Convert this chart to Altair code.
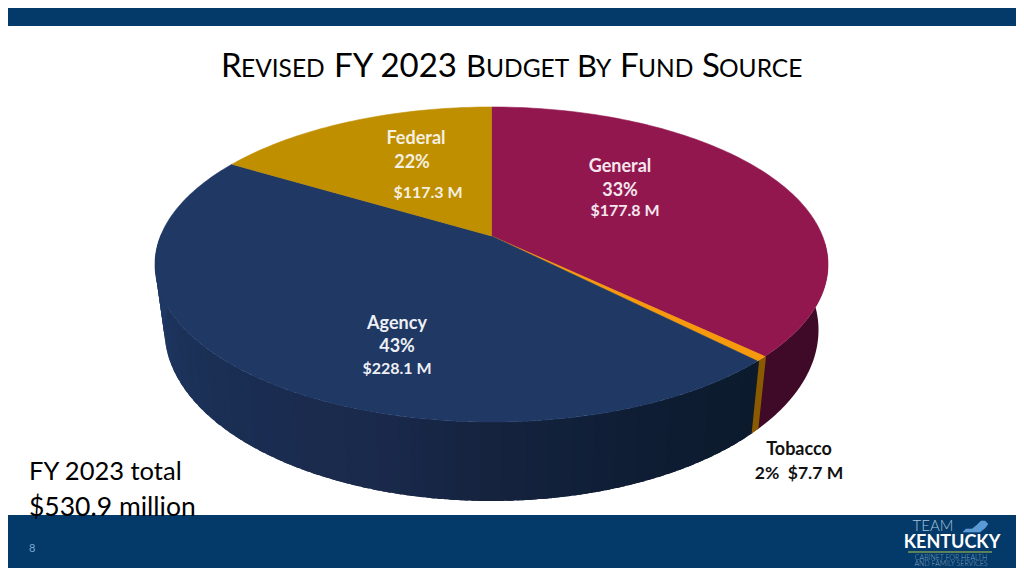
import math
import altair as alt
import pandas as pd

# ---- chart values ----
sources = ["General", "Tobacco", "Agency", "Federal"]
shares = [33, 2, 43, 22]
amounts = ["$177.8 M", "$7.7 M", "$228.1 M", "$117.3 M"]
# slice edges, as ellipse angles measured on the drawn (tilted) pie
edge_start = [270, 395.7, 397.8, 579.5]
edge_end = [395.7, 397.8, 579.5, 630]
top_colors = ["#92174f", "#f7990c", "#1f3864", "#bf8f00"]
wall_colors = ["#3f0a27", "#8a5a00", None, None]
agency_wall_angle = [37, 60, 90, 110, 130, 150, 165, 180, 190]
agency_wall_shade = ["#0c1a2c", "#0e1d33", "#15233f", "#1a2a4c", "#1a2c50", "#1b3056", "#1d345d", "#1f3864", "#1f3864"]

W, H = 1008, 560
APEX = (491.5, 236)
TOP = (491.5, 264.5, 336.5, 157.5)
BOT = (491.5, 330, 327, 171)


def ell(e, t):
    r = math.radians(t)
    return e[0] + e[2] * math.cos(r), e[1] + e[3] * math.sin(r)


def arc_list(a, b, step=1.0):
    n = max(2, int(abs(b - a) / step) + 1)
    return [a + (b - a) * i / (n - 1) for i in range(n)]


def mix(c1, c2, f):
    a = [int(c1[i:i + 2], 16) for i in (1, 3, 5)]
    b = [int(c2[i:i + 2], 16) for i in (1, 3, 5)]
    return "#" + "".join(f"{round(p + (q - p) * f):02x}" for p, q in zip(a, b))


walls, faces = [], []


def add_poly(rows, name, color, pts):
    pts = list(pts) + [pts[0]]
    for i, (x, y) in enumerate(pts):
        rows.append({"g": name, "c": color, "o": i, "x": x, "y": y})


def wall(name, color, a, b):
    ts = arc_list(a, b, 0.5)
    add_poly(walls, name, color, [ell(TOP, t) for t in ts] + [ell(BOT, t) for t in reversed(ts)])


# walls: the agency wall is painted in thin overlapping strips between the read shades
wall("w-gen", wall_colors[0], -8, 35.7)
strip = 0
for i in range(len(agency_wall_angle) - 1):
    a0, a1 = agency_wall_angle[i], agency_wall_angle[i + 1]
    steps = max(1, int((a1 - a0) / 2))
    for k in range(steps):
        wall(f"w-ag{strip:03d}", mix(agency_wall_shade[i], agency_wall_shade[i + 1], k / steps),
             a0 + (a1 - a0) * k / steps, a0 + (a1 - a0) * (k + 1) / steps + 1.5)
        strip += 1
wall("w-tob", wall_colors[1], 35.3, 37.3)
# top face
for s, a, b, c in zip(sources, edge_start, edge_end, top_colors):
    add_poly(faces, "t-" + s, c, [APEX] + [ell(TOP, t) for t in arc_list(a, b)])

# logo state shape
ky_x = [963, 966, 972, 977, 981, 985, 988, 985, 980]
ky_y = [532, 529, 529, 525, 521, 521, 524, 528, 532]
add_poly(faces, "ky", "#5b9bd5", list(zip(ky_x, ky_y)))

walls_df = pd.DataFrame(walls)
faces_df = pd.DataFrame(faces)

bands = pd.DataFrame({"x": [8, 8], "x2": [1016, 1016], "y": [8, 515], "y2": [26, 568]})
logo_rule = pd.DataFrame({"x": [908], "x2": [992], "y": [552]})

title_runs = [
    ("R", 221, 33), ("EVISED", 241, 24.5), ("FY 2023", 334, 33), ("B", 466, 31), ("UDGET", 486, 24.5),
    ("B", 577, 31), ("Y", 596, 24.5), ("F", 620, 33), ("UND", 638, 24.5), ("S", 702, 33), ("OURCE", 719, 24.5),
]
title_df = pd.DataFrame({"t": [r[0] for r in title_runs], "x": [r[1] for r in title_runs],
                         "s": [r[2] for r in title_runs], "y": [77] * len(title_runs)})

bold_labels = pd.DataFrame([
    {"t": "Federal", "x": 416, "y": 139, "s": 18, "c": "#f5f0e0"},
    {"t": f"{shares[3]}%", "x": 412, "y": 163, "s": 18, "c": "#f5f0e0"},
    {"t": amounts[3], "x": 428, "y": 193, "s": 16, "c": "#f5f0e0"},
    {"t": "General", "x": 620, "y": 167, "s": 18, "c": "#f5e6ee"},
    {"t": f"{shares[0]}%", "x": 620, "y": 191, "s": 18, "c": "#f5e6ee"},
    {"t": amounts[0], "x": 625, "y": 211, "s": 16, "c": "#f5e6ee"},
    {"t": "Agency", "x": 397, "y": 324, "s": 18, "c": "#eef0f5"},
    {"t": f"{shares[2]}%", "x": 397, "y": 347, "s": 18, "c": "#eef0f5"},
    {"t": amounts[2], "x": 397, "y": 369, "s": 16, "c": "#eef0f5"},
    {"t": "Tobacco", "x": 799, "y": 450, "s": 18, "c": "#111111"},
    {"t": f"{shares[1]}%\u00a0\u00a0{amounts[1]}", "x": 799, "y": 474, "s": 17.5, "c": "#111111"},
    {"t": "KENTUCKY", "x": 952, "y": 543, "s": 18, "c": "#ffffff"},
])
plain_left = pd.DataFrame([
    {"t": "FY 2023 total", "x": 29, "y": 480, "s": 25.5, "c": "#000000"},
    {"t": "$530.9 million", "x": 29, "y": 516, "s": 26.5, "c": "#000000"},
    {"t": "8", "x": 29, "y": 552, "s": 11, "c": "#7ea6d0"},
])
plain_logo = pd.DataFrame([
    {"t": "TEAM", "x": 933, "y": 526, "s": 15, "c": "#a9c4dc"},
    {"t": "CABINET FOR HEALTH", "x": 951, "y": 558, "s": 7, "c": "#86a3bf"},
    {"t": "AND FAMILY SERVICES", "x": 951, "y": 564, "s": 7, "c": "#86a3bf"},
])

X = alt.X("x:Q", scale=alt.Scale(domain=[8, W + 8], range=[0, W]), axis=None)
Y = alt.Y("y:Q", scale=alt.Scale(domain=[H + 8, 8], range=[H, 0]), axis=None)

band_layer = alt.Chart(bands).mark_rect(color="#033a69").encode(X, alt.X2("x2:Q"), Y, alt.Y2("y2:Q"))
wall_layer = alt.Chart(walls_df).mark_line(filled=True, interpolate="linear", strokeWidth=0).encode(
    X, Y, order="o:Q", detail="g:N", fill=alt.Fill("c:N", scale=None),
)
face_layer = alt.Chart(faces_df).mark_line(filled=True, interpolate="linear", strokeWidth=0.6).encode(
    X, Y, order="o:Q", detail="g:N",
    fill=alt.Fill("c:N", scale=None), stroke=alt.Stroke("c:N", scale=None),
)
rule_layer = alt.Chart(logo_rule).mark_rule(color="#b8c94a", strokeWidth=1.2).encode(X, alt.X2("x2:Q"), Y)


def text_layer(df, **kw):
    return alt.Chart(df).mark_text(font="Lato", **kw).encode(
        X, Y, text="t:N", size=alt.Size("s:Q", scale=None),
        color=alt.Color("c:N", scale=None) if "c" in df else alt.value("#000000"),
    )


chart = alt.layer(
    band_layer, wall_layer, face_layer, rule_layer,
    text_layer(title_df, align="left", baseline="alphabetic"),
    text_layer(bold_labels, align="center", baseline="middle", fontWeight="bold"),
    text_layer(plain_left, align="left", baseline="alphabetic"),
    text_layer(plain_logo, align="center", baseline="middle", fontWeight=300),
).properties(width=W, height=H, padding=0, autosize=alt.AutoSizeParams(type="none"),
             background="#ffffff").configure_view(stroke=None)

chart.save("out.html", embed_options={"renderer": "svg", "actions": False})
